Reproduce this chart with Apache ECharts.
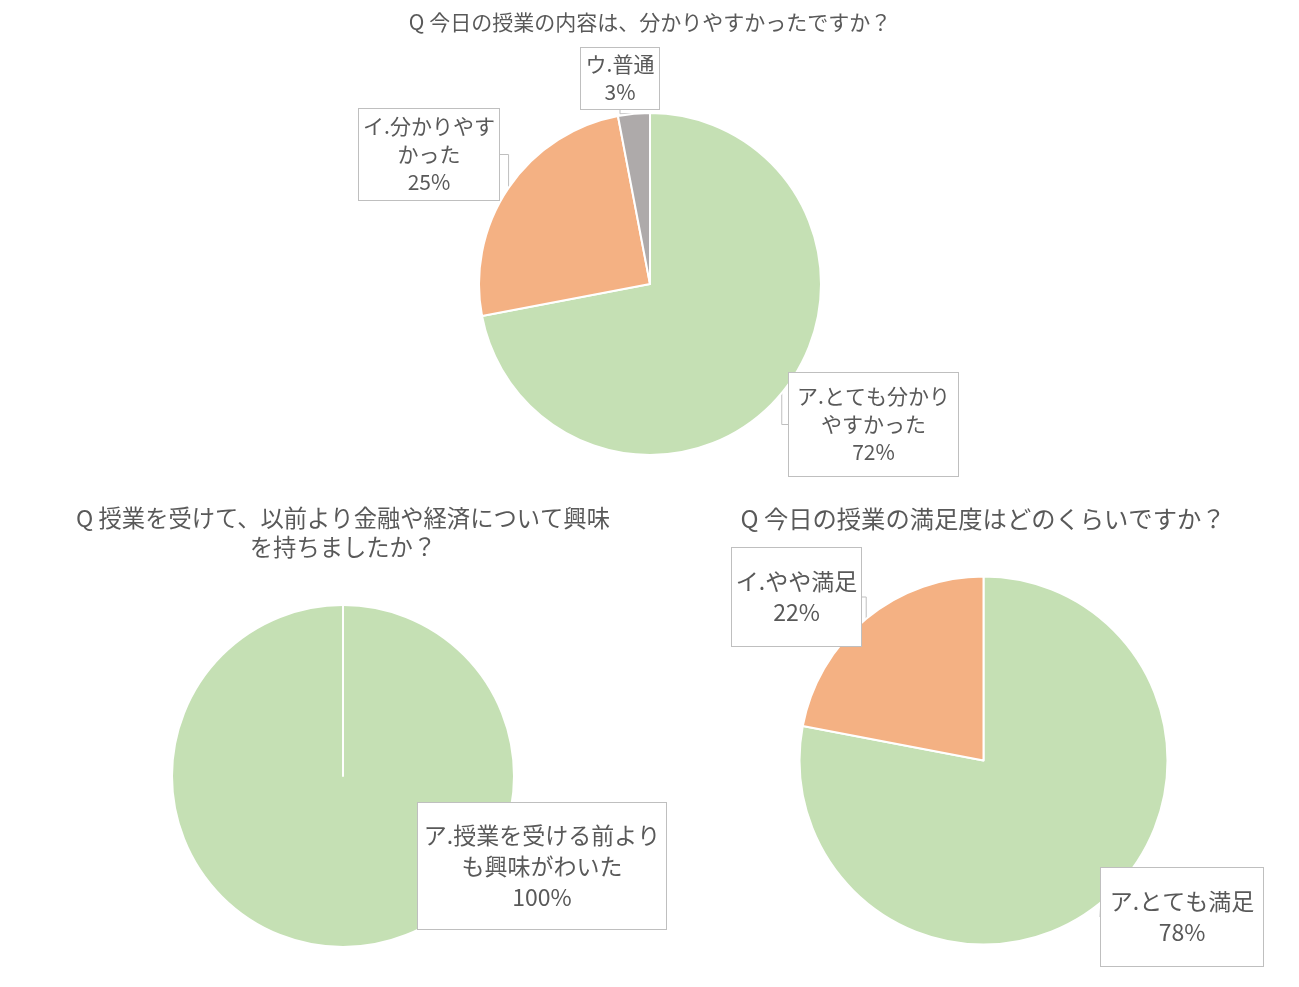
<!DOCTYPE html>
<html><head><meta charset="utf-8">
<script src="https://cdn.jsdelivr.net/npm/echarts@6/dist/echarts.min.js"></script>
<style>html,body{margin:0;padding:0;background:#fff}#c{width:1299px;height:987px}</style>
</head><body><div id="c"></div>
<script>
// ---- data ----
const title1 = 'Q 今日の授業の内容は、分かりやすかったですか？';
const title2 = 'Q 授業を受けて、以前より金融や経済について興味\nを持ちましたか？';
const title3 = 'Q 今日の授業の満足度はどのくらいですか？';

const cat1 = ['ア.とても分かり\nやすかった', 'イ.分かりやす\nかった', 'ウ.普通'];
const val1 = [72, 25, 3];

const cat2 = ['ア.授業を受ける前より\nも興味がわいた', ''];
const val2 = [100, 0];

const cat3 = ['ア.とても満足', 'イ.やや満足'];
const val3 = [78, 22];

// ---- style / layout ----
const colors = ['#C5E0B4', '#F4B183', '#AEAAAA'];
const textColor = '#595959';
const FONT = '"Noto Sans CJK JP", "Noto Sans", sans-serif';

const boxes1 = [{cx: 873.5, cy: 424.5, w: 171, h: 103}, {cx: 429, cy: 154.5, w: 142, h: 91}, {cx: 620, cy: 78.5, w: 80, h: 61}];
const boxes2 = [{cx: 542, cy: 866, w: 250, h: 126}, null];
const boxes3 = [{cx: 1182, cy: 917, w: 164, h: 98}, {cx: 796.5, cy: 597, w: 131, h: 98}];

function buildData(cats, vals, boxes, fs, lh) {
  return cats.map((c, i) => {
    const b = boxes[i];
    const item = {name: c, value: vals[i], itemStyle: {color: colors[i]}};
    if (!b) {
      item.label = {show: false};
      item.labelLine = {show: false};
      return item;
    }
    const lines = (c + '\n' + vals[i] + '%').split('\n').length;
    const pv = (b.h - lines * lh) / 2;
    item.label = {width: b.w - 6, padding: [pv, 2, pv, 2]};
    return item;
  });
}

function makePie(cats, vals, boxes, center, radius, fs, lh) {
  return {
    type: 'pie',
    center: center,
    radius: radius,
    startAngle: 90,
    clockwise: true,
    silent: true,
    avoidLabelOverlap: false,
    itemStyle: {borderColor: '#ffffff', borderWidth: 2},
    label: {
      show: true,
      position: 'outside',
      formatter: p => p.name + '\n' + p.value + '%',
      color: textColor,
      fontFamily: FONT,
      fontSize: fs,
      lineHeight: lh,
      align: 'center',
      overflow: 'none',
      backgroundColor: '#ffffff',
      borderColor: '#BFBFBF',
      borderWidth: 1
    },
    labelLine: {show: true, length: 10, length2: 10, lineStyle: {color: '#BFBFBF', width: 1}},
    labelLayout: function (params) {
      const b = boxes[params.dataIndex];
      if (!b) return {};
      return {x: b.cx, y: b.cy, align: 'center', verticalAlign: 'middle'};
    },
    emphasis: {disabled: true},
    data: buildData(cats, vals, boxes, fs, lh)
  };
}

const chart = echarts.init(document.getElementById('c'), null, {renderer: 'canvas'});
const tstyle = (fs, lh) => ({color: textColor, fontFamily: FONT, fontSize: fs, lineHeight: lh, fontWeight: 'normal'});
chart.setOption({
  animation: false,
  backgroundColor: '#ffffff',
  title: [
    {text: title1, left: 650, top: 8, textAlign: 'center', padding: 0, textStyle: tstyle(21, 28)},
    {text: title2, left: 343, top: 504, textAlign: 'center', padding: 0, textStyle: Object.assign(tstyle(23.3, 29), {align: 'center'})},
    {text: title3, left: 983, top: 504, textAlign: 'center', padding: 0, textStyle: tstyle(24.3, 30)}
  ],
  series: [
    makePie(cat1, val1, boxes1, [650, 284], 171, 21, 28),
    makePie(cat2, val2, boxes2, [343, 776], 171, 23, 31),
    makePie(cat3, val3, boxes3, [983.5, 760.5], 184, 23, 31)
  ]
});
</script>
</body></html>
